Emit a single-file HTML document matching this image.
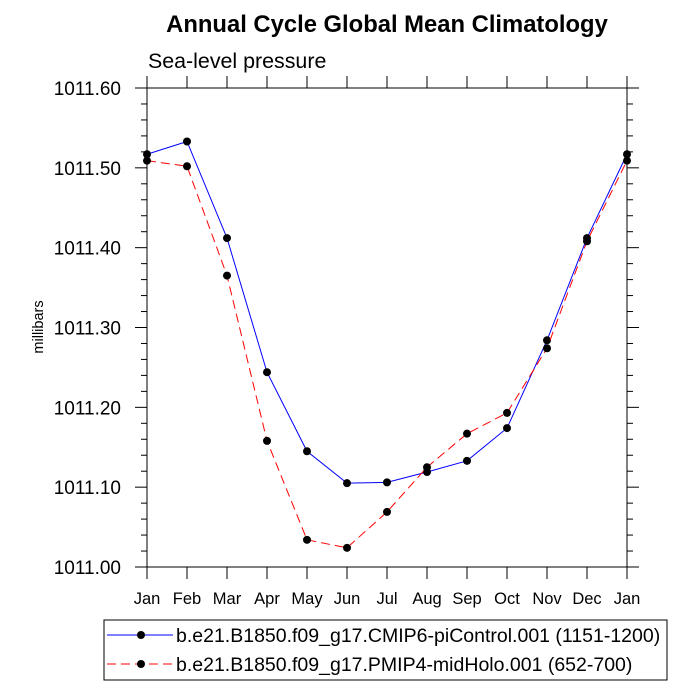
<!DOCTYPE html>
<html><head><meta charset="utf-8"><style>
body{margin:0;background:#fff;}
svg{display:block;font-family:"Liberation Sans",sans-serif;}
</style></head><body>
<svg id="chart" width="700" height="700" xmlns="http://www.w3.org/2000/svg">
<text x="387" y="32" text-anchor="middle" font-size="23.8" font-weight="bold">Annual Cycle Global Mean Climatology</text>
<text x="148" y="68" font-size="21.4">Sea-level pressure</text>
<text transform="translate(43,327) rotate(-90)" text-anchor="middle" font-size="14.5">millibars</text>
<g id="axes"></g>
<g id="series"></g>
<g>
<rect x="104" y="620" width="563" height="60" fill="none" stroke="#000" stroke-width="1"/>
<line x1="107" y1="635" x2="173" y2="635" stroke="#0000ff" stroke-width="1"/>
<circle cx="141" cy="635" r="4" fill="#000"/>
<text x="176" y="642" font-size="19.5">b.e21.B1850.f09_g17.CMIP6-piControl.001 (1151-1200)</text>
<line x1="107" y1="664" x2="173" y2="664" stroke="#ff0000" stroke-width="1" stroke-dasharray="9,5"/>
<circle cx="141" cy="664" r="4" fill="#000"/>
<text x="176" y="671" font-size="19.5">b.e21.B1850.f09_g17.PMIP4-midHolo.001 (652-700)</text>
</g>
</svg>
<script>
const months = ["Jan","Feb","Mar","Apr","May","Jun","Jul","Aug","Sep","Oct","Nov","Dec","Jan"];
const yTicks = [1011.00,1011.10,1011.20,1011.30,1011.40,1011.50,1011.60];
const piControl = [1011.517,1011.533,1011.412,1011.244,1011.145,1011.105,1011.106,1011.119,1011.133,1011.174,1011.284,1011.412,1011.517];
const midHolo = [1011.509,1011.502,1011.365,1011.158,1011.034,1011.024,1011.069,1011.125,1011.167,1011.193,1011.274,1011.408,1011.509];

const NS="http://www.w3.org/2000/svg";
const L=147,R=627,T=88,B=567,ymin=1011.0,ymax=1011.6;
const xS=i=>L+(R-L)*i/(months.length-1);
const yS=v=>B-(v-ymin)/(ymax-ymin)*(B-T);
function mk(tag,attrs,parent){const e=document.createElementNS(NS,tag);for(const k in attrs)e.setAttribute(k,attrs[k]);parent.appendChild(e);return e;}
const ax=document.getElementById('axes');
const frame=mk('rect',{x:L,y:T,width:R-L,height:B-T,fill:'none',stroke:'#000','stroke-width':1},ax);


months.forEach((m,i)=>{
  const x=xS(i);
  mk('line',{x1:x,y1:B,x2:x,y2:B+12,stroke:'#000'},ax);
  mk('line',{x1:x,y1:T,x2:x,y2:T-12,stroke:'#000'},ax);
  const t=mk('text',{x:x,y:B+37,'text-anchor':'middle','font-size':16.5},ax);
  t.textContent=m;
  
  
});
yTicks.forEach((v,i)=>{
  const y=yS(v);
  mk('line',{x1:L,y1:y,x2:L-12,y2:y,stroke:'#000'},ax);
  mk('line',{x1:R,y1:y,x2:R+12,y2:y,stroke:'#000'},ax);
  const t=mk('text',{x:121,y:y+7,'text-anchor':'end','font-size':19},ax);
  t.textContent=v.toFixed(2);
  
  
  if(i<yTicks.length-1){for(let k=1;k<5;k++){const v2=v+(yTicks[i+1]-v)*k/5,y2=yS(v2);
    mk('line',{x1:L,y1:y2,x2:L-6,y2:y2,stroke:'#000'},ax);
    mk('line',{x1:R,y1:y2,x2:R+6,y2:y2,stroke:'#000'},ax);}}
});
const sg=document.getElementById('series');
function drawSeries(vals,color,dash,name){
  const pts=vals.map((v,i)=>xS(i)+','+yS(v)).join(' ');
  const pl=mk('polyline',{points:pts,fill:'none',stroke:color,'stroke-width':1},sg);
  if(dash)pl.setAttribute('stroke-dasharray',dash);
  
  
  vals.forEach((v,i)=>{
    const c=mk('circle',{cx:xS(i),cy:yS(v),r:4,fill:'#000'},sg);
    
    
  });
}
drawSeries(piControl,'#0000ff',null,'picontrol');
drawSeries(midHolo,'#ff0000','9,5','midholo');
</script>
</body></html>
